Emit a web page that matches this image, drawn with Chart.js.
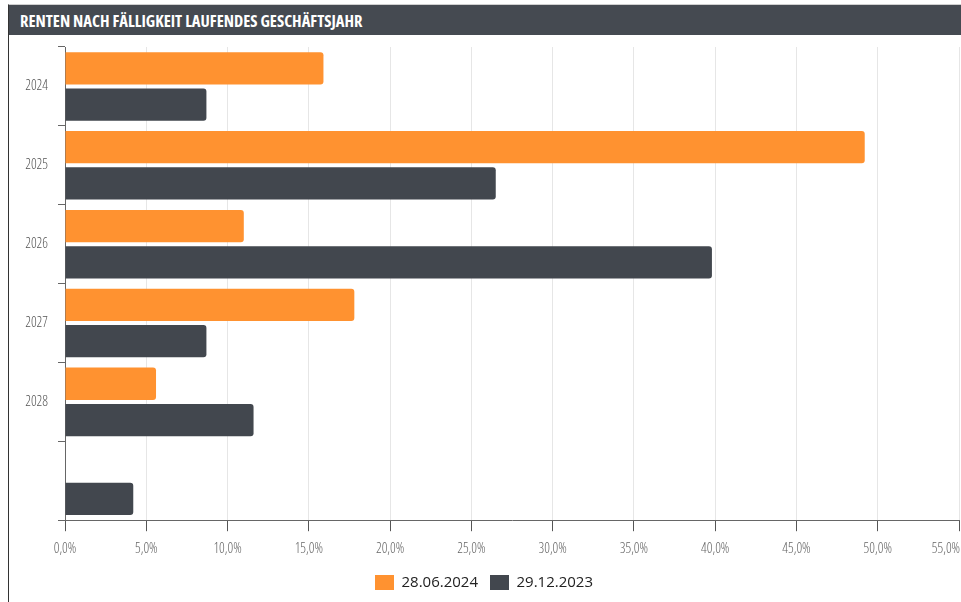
<!DOCTYPE html>
<html>
<head>
<meta charset="utf-8">
<script src="https://cdn.jsdelivr.net/npm/chart.js@4/dist/chart.umd.min.js"></script>
<style>
  body { margin: 0; background: #fff; }
  #box { position: absolute; left: 8px; top: 4px; width: 953px; height: 598px;
         border-top: 1px solid #d0d0d0; border-left: 1px solid #333; }
  #head { height: 30px; background: #454a51; color: #fff;
          font-family: "Open Sans", sans-serif; font-weight: bold; font-stretch: 75%;
          font-size: 16.5px; line-height: 31px; padding-left: 11px; }
  #wrap { position: relative; width: 952px; height: 567px; }
</style>
</head>
<body>
<div id="box">
  <div id="head">RENTEN NACH FÄLLIGKEIT LAUFENDES GESCHÄFTSJAHR</div>
  <div id="wrap"><canvas id="chart"></canvas></div>
</div>
<script>
/* --------------- Data --------------------- */
const years = ["2024", "2025", "2026", "2027", "2028", ""];
const seriesNames = ["28.06.2024", "29.12.2023"];
const june2024 = [15.9, 49.2, 11.0, 17.8, 5.6, null];
const dec2023 = [8.7, 26.5, 39.8, 8.7, 11.6, 4.2];
const colors = ["#ff9230", "#42474e"];

const fmt = (v) => v.toFixed(1).replace(".", ",") + "%";
// condensed light Open Sans for the axis labels
const axisFont = { family: "'Open Sans', 'DejaVu Sans Condensed', sans-serif", weight: "300 condensed", size: 14 };

/* --------------- Chart --------------------- */
new Chart(document.getElementById("chart"), {
  type: "bar",
  data: {
    labels: years,
    datasets: [
      { label: seriesNames[0], data: june2024, backgroundColor: colors[0] },
      { label: seriesNames[1], data: dec2023, backgroundColor: colors[1] },
    ],
  },
  options: {
    indexAxis: "y",
    responsive: true,
    maintainAspectRatio: false,
    animation: false,
    layout: { padding: { left: 0, right: 2, top: 12, bottom: 2 } },
    datasets: {
      bar: {
        categoryPercentage: 0.92,
        barPercentage: 0.89,
        borderRadius: 3,
        borderWidth: 0,
      },
    },
    plugins: {
      tooltip: { enabled: false },
      legend: {
        position: "bottom",
        labels: {
          boxWidth: 19,
          boxHeight: 15,
          padding: 12,
          color: "#222",
          font: { family: "'Open Sans'", size: 15 },
        },
      },
    },
    scales: {
      x: {
        min: 0,
        max: 55,
        ticks: {
          stepSize: 5,
          color: "#666",
          padding: 9,
          font: axisFont,
          // last label sits left of its tick, like the original
          callback: (v) => (v === 55 ? fmt(v) + "          " : fmt(v)),
        },
        grid: { color: "#e6e6e6", tickColor: "#555", tickLength: 11 },
        border: { color: "#666" },
        afterFit: (scale) => {
          scale.paddingRight = 0;
          scale.height -= 3;
        },
      },
      y: {
        ticks: { color: "#555", padding: 10, font: axisFont },
        grid: { drawOnChartArea: false, tickColor: "#666", tickLength: 7 },
        border: { color: "#666" },
        afterFit: (scale) => {
          scale.width = 56;
          scale.paddingTop = 0;
          scale.paddingBottom = 0;
        },
      },
    },
  },
});
</script>
</body>
</html>
